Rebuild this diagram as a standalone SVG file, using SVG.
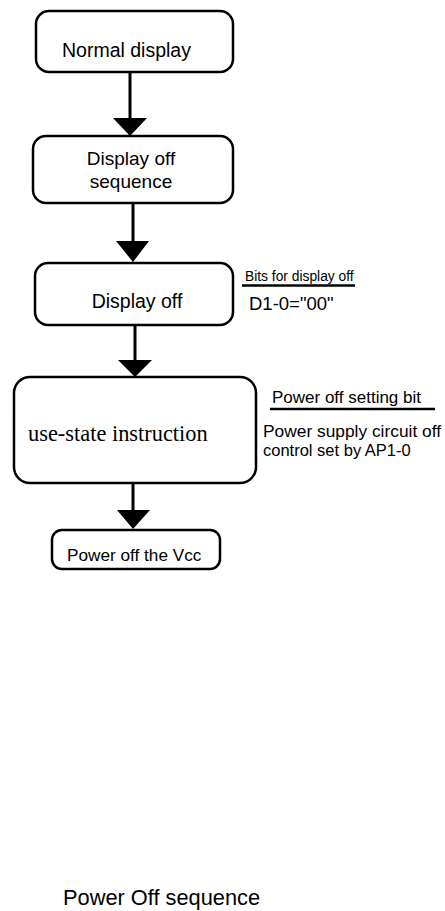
<svg xmlns="http://www.w3.org/2000/svg" width="445" height="911" viewBox="0 0 445 911">
<style>
.box{fill:#fff;stroke:#000;stroke-width:2.5}
.t{font-family:"Liberation Sans",Arial,sans-serif;fill:#000}
.s{font-family:"Liberation Serif","Times New Roman",serif;fill:#000}
.ln{stroke:#000;stroke-width:3;fill:none}
.ul{stroke:#000;stroke-width:2.5}
</style>
<rect width="445" height="911" fill="#fff"/>
<g id="connectors">
<line class="ln" x1="130" y1="72" x2="130" y2="120"/>
<polygon points="113,118 147,118 130,136"/>
<line class="ln" x1="133" y1="203" x2="133" y2="243"/>
<polygon points="116,241 149,241 133,262"/>
<line class="ln" x1="135" y1="325" x2="135" y2="362"/>
<polygon points="118,360 152,360 135,377"/>
<line class="ln" x1="133" y1="483" x2="133" y2="512"/>
<polygon points="117,510 150,510 133,529"/>
</g>
<g id="normal-display">
<rect class="box" x="36" y="11" width="197" height="61" rx="13"/>
<text class="t" x="62" y="57" font-size="19.5">Normal display</text>
</g>
<g id="display-off-sequence">
<rect class="box" x="33" y="136" width="200" height="67" rx="13"/>
<text class="t" x="131" y="165" font-size="19" text-anchor="middle">Display off</text>
<text class="t" x="131" y="188" font-size="19" text-anchor="middle">sequence</text>
</g>
<g id="display-off">
<rect class="box" x="35" y="263" width="198" height="62" rx="13"/>
<text class="t" x="137" y="308" font-size="19.5" text-anchor="middle">Display off</text>
</g>
<g id="bits-display-off">
<text class="t" x="245" y="281" font-size="13.8">Bits for display off</text>
<line class="ul" x1="242" y1="285.5" x2="355" y2="285.5"/>
<text class="t" x="249" y="310" font-size="18.5">D1-0="00"</text>
</g>
<g id="use-state">
<rect class="box" x="14" y="377" width="242" height="106" rx="16"/>
<text class="s" x="28" y="441" font-size="22.4">use-state instruction</text>
</g>
<g id="power-off-setting">
<text class="t" x="272" y="403" font-size="17">Power off setting bit</text>
<line class="ul" x1="270" y1="409" x2="435" y2="409"/>
<text class="t" x="263" y="437" font-size="16.5" textLength="178" lengthAdjust="spacingAndGlyphs">Power supply circuit off</text>
<text class="t" x="263" y="456" font-size="16.5">control set by AP1-0</text>
</g>
<g id="power-off-vcc">
<rect class="box" x="52" y="530" width="168" height="39" rx="10"/>
<text class="t" x="67" y="561" font-size="17.2">Power off the Vcc</text>
</g>
<g id="title">
<text class="t" x="63" y="905" font-size="21.8">Power Off sequence</text>
</g>
</svg>
